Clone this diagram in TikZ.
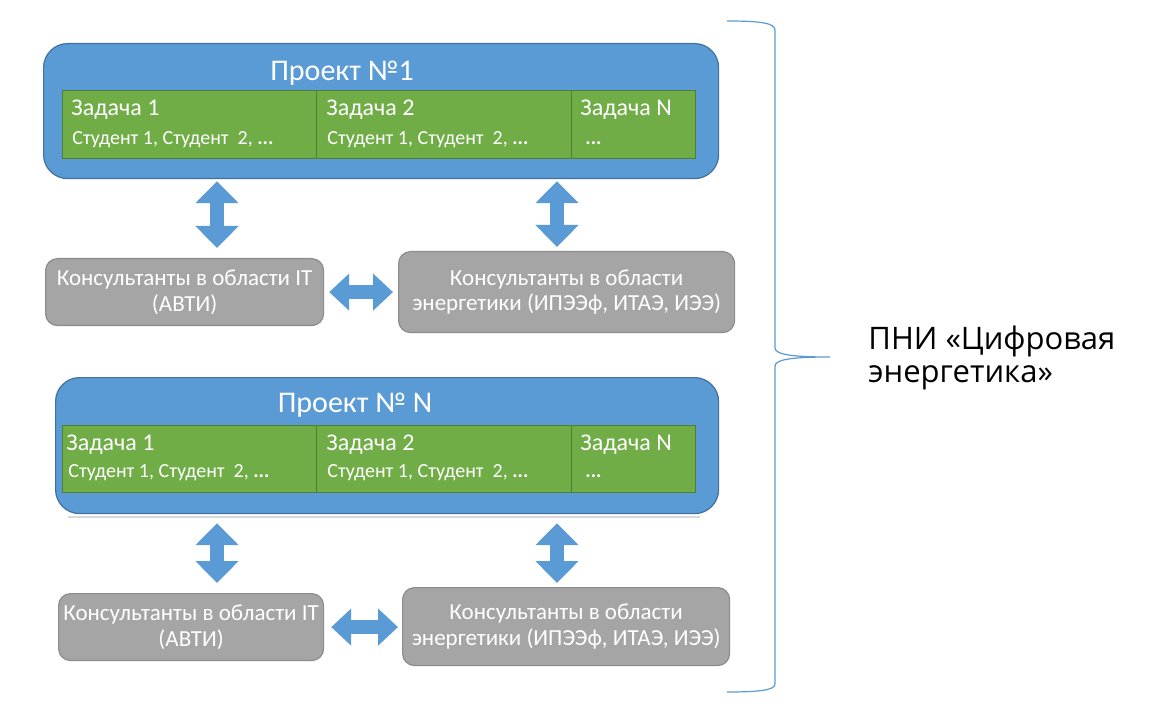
\documentclass[tikz,border=0pt]{standalone}
\usepackage{fontspec}
\setmainfont{Carlito}
\newfontfamily\rightfont{Open Sans}
\usetikzlibrary{arrows.meta}
\definecolor{pblue}{HTML}{5B9BD5}
\definecolor{pblueD}{HTML}{41719C}
\definecolor{pgreen}{HTML}{70AD47}
\definecolor{pgreenD}{HTML}{507E32}
\definecolor{pgrey}{HTML}{A5A5A5}
\definecolor{pgreyD}{HTML}{8C8C8C}
\definecolor{sepgrey}{HTML}{D9D9D9}
\begin{document}
\begin{tikzpicture}[x=0.5pt,y=-0.5pt,
  proj/.style={draw=pblueD, fill=pblue, rounded corners=12pt, line width=0.6pt, anchor=north west, inner sep=0pt},
  task/.style={draw=pgreenD, fill=pgreen, line width=0.6pt, anchor=north west, inner sep=0pt},
  cons/.style={draw=pgreyD, fill=pgrey, rounded corners=6pt, line width=0.6pt, anchor=north west, inner sep=0pt},
  constext/.style={text=white, align=center, font=\fontsize{11.5}{12.8}\selectfont, inner sep=0pt},
  ptitle/.style={text=white, font=\fontsize{15}{17}\selectfont, inner sep=0pt},
  ttitle/.style={text=white, font=\fontsize{12}{13}\selectfont, anchor=base west, inner sep=0pt},
  tstud/.style={text=white, font=\fontsize{10}{11}\selectfont, anchor=base west, inner sep=0pt},
  barrow/.style={pblue, line width=7pt, {Triangle[length=11pt,width=21pt]}-{Triangle[length=11pt,width=21pt]}},
  harrow/.style={pblue, line width=7pt, {Triangle[length=10pt,width=18pt]}-{Triangle[length=10pt,width=18pt]}},
  brace/.style={draw=pblue, line width=0.6pt}
]
\useasboundingbox (0,0) rectangle (1159,710);
\fill[white] (0,0) rectangle (1159,710);

% ---------- Project 1 ----------
\node[proj, minimum width=337.5pt, minimum height=67.5pt] (p1) at (43,43) {};
\node[ptitle] (p1t) at (342,73) {Проект №1};
\node[task, minimum width=127pt, minimum height=34pt] (t11) at (62,90) {};
\node[task, minimum width=127.5pt, minimum height=34pt] (t12) at (316,90) {};
\node[task, minimum width=62pt, minimum height=34pt] (t13) at (571,90) {};
\node[ttitle] (t11a) at (71,116) {Задача 1};
\node[tstud] (t11b) at (72,145) {Студент 1, Студент\ \ 2, {\bfseries ...}};
\node[ttitle] (t12a) at (326,116) {Задача 2};
\node[tstud] (t12b) at (327,145) {Студент 1, Студент\ \ 2, {\bfseries ...}};
\node[ttitle] (t13a) at (580,116) {Задача N};
\node[tstud] (t13b) at (585,145) {{\bfseries ...}};

% consultants 1
\node[cons, minimum width=139pt, minimum height=33.5pt] (c1) at (45,258) {};
\node[constext] (c1t) at (c1) {Консультанты в области IT\\(АВТИ)};
\node[cons, minimum width=168pt, minimum height=40.5pt] (c2) at (398,251) {};
\node[constext] (c2t) at (c2) {Консультанты в области\\энергетики (ИПЭЭф, ИТАЭ, ИЭЭ)};

% ---------- Project N ----------
\node[proj, minimum width=331.5pt, minimum height=68pt] (pN) at (55,377) {};
\node[ptitle] (pNt) at (355,405) {Проект № N};
\node[task, minimum width=127pt, minimum height=33.5pt] (t21) at (62,425) {};
\node[task, minimum width=127.5pt, minimum height=33.5pt] (t22) at (316,425) {};
\node[task, minimum width=62pt, minimum height=33.5pt] (t23) at (571,425) {};
\node[ttitle] (t21a) at (66,450) {Задача 1};
\node[tstud] (t21b) at (68,477) {Студент 1, Студент\ \ 2, {\bfseries ...}};
\node[ttitle] (t22a) at (326,450) {Задача 2};
\node[tstud] (t22b) at (327,477) {Студент 1, Студент\ \ 2, {\bfseries ...}};
\node[ttitle] (t23a) at (580,450) {Задача N};
\node[tstud] (t23b) at (585,477) {{\bfseries ...}};

\coordinate (s1) at (68,517);
\coordinate (s2) at (700,517);
\draw[sepgrey, line width=0.6pt] (s1) -- (s2);

% consultants 2
\node[cons, minimum width=132.5pt, minimum height=33.5pt] (c3) at (58,593) {};
\node[constext] (c3t) at (c3) {Консультанты в области IT\\(АВТИ)};
\node[cons, minimum width=163.5pt, minimum height=39pt] (c4) at (402,587) {};
\node[constext] (c4t) at (c4) {Консультанты в области\\энергетики (ИПЭЭф, ИТАЭ, ИЭЭ)};

% ---------- arrows ----------
\coordinate (xl) at (217,0);
\coordinate (xr) at (557,0);
\draw[barrow, shorten <=1pt, shorten >=5pt] (xl |- p1.south) -- (xl |- c1.north);
\draw[barrow, shorten <=1pt, shorten >=2pt] (xr |- p1.south) -- (xr |- c2.north);
\draw[harrow, shorten <=2.5pt, shorten >=2.5pt] (c1.east) -- (c2.west |- c1.east);
\draw[barrow, shorten <=4.5pt, shorten >=5pt] (xl |- pN.south) -- (xl |- c3.north);
\draw[barrow, shorten <=4.5pt, shorten >=2pt] (xr |- pN.south) -- (xr |- c4.north);
\draw[harrow, shorten <=3.5pt, shorten >=2pt] (c3.east) -- (c4.west |- c3.east);

% ---------- brace ----------
\coordinate (b0) at (727,21);
\coordinate (b1) at (775,30);
\coordinate (b2) at (775,348);
\coordinate (bt) at (830,357);
\coordinate (b3) at (775,366);
\coordinate (b4) at (775,684);
\coordinate (b5) at (727,692);
\draw[brace] (b0) .. controls (760,21) and (775,23) .. (b1) -- (b2)
  .. controls (775,355) and (795,357) .. (bt)
  .. controls (795,357) and (775,359) .. (b3) -- (b4)
  .. controls (775,690) and (760,692) .. (b5);

\node[anchor=north west, inner sep=0pt, align=left, font=\rightfont\fontsize{15.5}{16.5}\selectfont] (pni) at (868,326)
  {ПНИ «Цифровая\\энергетика»};
\end{tikzpicture}
\end{document}
